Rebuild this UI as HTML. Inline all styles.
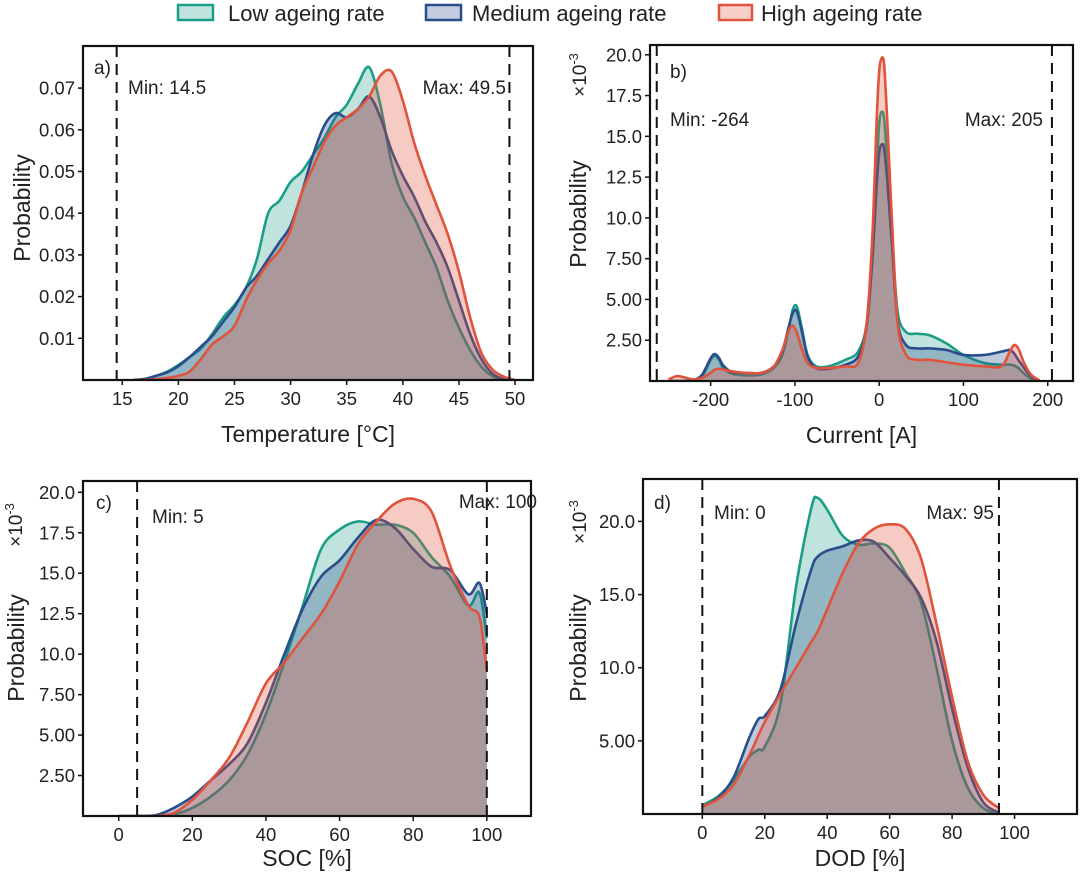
<!DOCTYPE html>
<html><head><meta charset="utf-8">
<style>
html,body{margin:0;padding:0;background:#fff;}
svg{display:block;font-family:"Liberation Sans",Arial,sans-serif;}
</style></head>
<body>
<svg id="fig" width="1080" height="882" viewBox="0 0 1080 882" xmlns="http://www.w3.org/2000/svg">
  <g font-size="22" fill="#222">
    <g>
      <rect x="178" y="5" width="35" height="15" fill="rgba(27,158,134,0.28)" stroke="#1b9e86" stroke-width="2.5"/>
      <text x="228" y="21">Low ageing rate</text>
    </g>
    <g>
      <rect x="426" y="5" width="35" height="15" fill="rgba(42,77,140,0.28)" stroke="#2a4d8c" stroke-width="2.5"/>
      <text x="472" y="21">Medium ageing rate</text>
    </g>
    <g>
      <rect x="719" y="5" width="33" height="15" fill="rgba(224,83,60,0.28)" stroke="#e0533c" stroke-width="2.5"/>
      <text x="761" y="21">High ageing rate</text>
    </g>
  </g>
</svg>
<script>
// Panel a: Temperature
const tempX = [16,17,18,19,20,21,22,23,24,25,26,27,28,29,30,31,32,33,34,35,36,37,38,39,40,41,42,43,44,45,46,47,48,49,50];
const tempLow = [0,0.0003,0.001,0.002,0.0036,0.0055,0.0075,0.011,0.015,0.018,0.022,0.029,0.040,0.043,0.0475,0.050,0.054,0.058,0.063,0.066,0.071,0.075,0.066,0.052,0.044,0.039,0.033,0.027,0.019,0.0125,0.0072,0.0032,0.0009,0.0001,0];
const tempMed = [0,0.0002,0.001,0.0018,0.0033,0.0055,0.008,0.0105,0.014,0.0175,0.022,0.025,0.029,0.033,0.037,0.045,0.054,0.061,0.064,0.063,0.065,0.068,0.063,0.055,0.049,0.044,0.038,0.033,0.027,0.019,0.011,0.005,0.0015,0.0002,0];
const tempHigh = [0,0,0.0002,0.0005,0.001,0.002,0.005,0.0085,0.0105,0.013,0.019,0.024,0.028,0.031,0.036,0.045,0.051,0.057,0.061,0.063,0.065,0.068,0.073,0.074,0.067,0.057,0.049,0.042,0.035,0.026,0.015,0.0065,0.0025,0.0008,0];
const tempXTicks = [15,20,25,30,35,40,45,50];
const tempYTicks = [0.01,0.02,0.03,0.04,0.05,0.06,0.07];
const tempYLabels = ["0.01","0.02","0.03","0.04","0.05","0.06","0.07"];

// Panel b: Current (x10^-3)
const curX = [-250,-240,-230,-220,-210,-200,-195,-190,-185,-175,-160,-140,-125,-115,-108,-103,-98,-92,-85,-75,-60,-40,-25,-15,-8,-3,0,3,6,10,15,22,32,45,60,80,100,125,145,155,160,165,172,180,190];
const curLow = [0,0,0,0.05,0.3,1.3,1.55,1.3,0.8,0.45,0.35,0.4,0.8,1.6,3.0,4.3,4.6,3.3,1.6,0.9,0.9,1.3,1.8,3.5,8,13,15.8,16.5,16,13,9,4.2,3.0,2.9,2.8,2.3,1.6,1.1,1.0,1.0,0.95,0.8,0.45,0.15,0];
const curMed = [0,0,0,0.05,0.4,1.4,1.65,1.4,0.95,0.55,0.5,0.5,0.9,1.8,3.2,4.1,4.3,3.1,1.5,0.8,0.75,1.0,1.5,3.3,7.5,12,14,14.5,14.2,12,8.5,3.6,2.2,2.0,2.0,1.9,1.6,1.6,1.8,1.9,1.7,1.3,0.8,0.3,0];
const curHigh = [0.1,0.3,0.2,0.1,0.2,0.5,0.7,0.75,0.7,0.6,0.5,0.5,0.9,1.9,3.0,3.4,3.0,2.0,1.1,0.8,0.8,0.9,1.1,3.5,9,16,19,19.8,19.3,15.5,10,3.5,1.6,1.3,1.3,1.15,1.0,0.9,0.9,1.8,2.2,2.0,1.1,0.4,0.05];
const curXTicks = [-200,-100,0,100,200];
const curYTicks = [2.5,5,7.5,10,12.5,15,17.5,20];
const curYLabels = ["2.50","5.00","7.50","10.0","12.5","15.0","17.5","20.0"];

// Panel c: SOC (x10^-3)
const socX = [0,5,10,15,20,25,30,35,40,45,50,55,60,65,70,75,80,85,90,95,98,100];
const socLow = [0,0,0,0.1,0.5,1.2,2.2,3.8,6.3,9.5,13,16.5,17.7,18.2,18.0,18.0,17.5,16,14.8,13.0,13.8,11];
const socMed = [0,0,0.05,0.5,1.2,2.2,3.2,4.5,7,10,12.8,14.8,15.8,17.2,18.3,17.8,16.5,15.4,15.2,13.7,14.4,12.5];
const socHigh = [0,0,0,0.2,1.0,2.2,3.6,5.8,8.2,9.5,11,12.5,14.5,16.8,18.2,19.3,19.6,18.8,15.5,13.0,12.3,9];
const socXTicks = [0,20,40,60,80,100];
const socYTicks = [2.5,5,7.5,10,12.5,15,17.5,20];
const socYLabels = ["2.50","5.00","7.50","10.0","12.5","15.0","17.5","20.0"];

// Panel d: DOD (x10^-3)
const dodX = [0,5,10,15,18,20,25,30,35,37,40,45,50,55,60,65,70,75,80,85,90,95];
const dodLow = [0.6,1.2,2.3,3.9,4.4,4.6,7.5,15.5,21,21.6,20.8,19,18.4,18.5,18.2,16.5,14.5,10,5,1.8,0.4,0];
const dodMed = [0.5,1.1,2.5,5.2,6.5,6.7,8.5,13,16.8,17.6,18.0,18.3,18.7,18.6,17.5,16.3,14.8,11.8,7.2,3.2,0.8,0.1];
const dodHigh = [0.5,1.0,2.0,4.0,5.4,6.3,8.2,10.0,11.8,12.5,14,16.5,18.5,19.5,19.8,19.5,17.5,13,8,3.6,1.3,0.4];
const dodXTicks = [0,20,40,60,80,100];
const dodYTicks = [5,10,15,20];
const dodYLabels = ["5.00","10.0","15.0","20.0"];

const NS = "http://www.w3.org/2000/svg";
const svg = document.getElementById('fig');
function mk(tag, attrs, parent){
  const e = document.createElementNS(NS, tag);
  for (const k in attrs) e.setAttribute(k, attrs[k]);
  (parent||svg).appendChild(e);
  return e;
}
function smoothPath(pts){
  let d = "M" + pts[0][0].toFixed(2) + "," + pts[0][1].toFixed(2);
  for (let i=0;i<pts.length-1;i++){
    const p0 = pts[i-1]||pts[i], p1 = pts[i], p2 = pts[i+1], p3 = pts[i+2]||p2;
    const t = 0.16;
    const c1y = p1[1]+(p2[1]-p0[1])*t, c2y = p2[1]-(p3[1]-p1[1])*t;
    const c1x = p1[0]+(p2[0]-p0[0])*t, c2x = p2[0]-(p3[0]-p1[0])*t;
    d += " C"+c1x.toFixed(2)+","+c1y.toFixed(2)+" "+c2x.toFixed(2)+","+c2y.toFixed(2)+" "+p2[0].toFixed(2)+","+p2[1].toFixed(2);
  }
  return d;
}
const COLORS = [
  {name:'low', line:'#1b9e86', fill:'rgba(27,158,134,0.28)'},
  {name:'medium', line:'#2a4d8c', fill:'rgba(42,77,140,0.30)'},
  {name:'high', line:'#e0533c', fill:'rgba(224,83,60,0.30)'}
];

function panel(cfg){
  const g = mk('g', {});
  
  
  const sx = v => cfg.x0 + (v - cfg.xmin) / (cfg.xmax - cfg.xmin) * (cfg.x1 - cfg.x0);
  const sy = v => cfg.y1 - (v - cfg.ymin) / (cfg.ymax - cfg.ymin) * (cfg.y1 - cfg.y0);
  const clip = mk('clipPath', {id:'clip-'+cfg.id}, g);
  mk('rect', {x:cfg.x0, y:cfg.y0, width:cfg.x1-cfg.x0, height:cfg.y1-cfg.y0}, clip);
  const plot = mk('g', {'clip-path':'url(#clip-'+cfg.id+')'}, g);
  cfg.series.forEach((ys, si) => {
    const pts = cfg.xs.map((x,i) => [sx(x), sy(ys[i])]);
    const line = smoothPath(pts);
    const area = line + " L" + pts[pts.length-1][0].toFixed(2) + "," + sy(cfg.ymin) + " L" + pts[0][0].toFixed(2) + "," + sy(cfg.ymin) + " Z";
    const a = mk('path', {d: area, fill: COLORS[si].fill, stroke:'none'}, plot);
    
    
    const l = mk('path', {d: line, fill:'none', stroke: COLORS[si].line, 'stroke-width':2.6, 'stroke-linejoin':'round'}, plot);
    
    
  });
  [cfg.minV, cfg.maxV].forEach((v, k) => {
    const dl = mk('line', {x1:sx(v), x2:sx(v), y1:cfg.y0, y2:cfg.y1, stroke:'#111', 'stroke-width':2, 'stroke-dasharray':'11,7'}, g);
    
    
  });
  const box = mk('rect', {x:cfg.x0, y:cfg.y0, width:cfg.x1-cfg.x0, height:cfg.y1-cfg.y0, fill:'none', stroke:'#111', 'stroke-width':2.2}, g);
  
  
  cfg.xTicks.forEach(v => {
    mk('line', {x1:sx(v), x2:sx(v), y1:cfg.y1, y2:cfg.y1+5, stroke:'#111', 'stroke-width':1.5}, g);
    const t = mk('text', {x:sx(v), y:cfg.y1+25, 'text-anchor':'middle', 'font-size':18.5, fill:'#222'}, g);
    t.textContent = String(v);
    
    
  });
  cfg.yTicks.forEach((v, i) => {
    mk('line', {x1:cfg.x0-5, x2:cfg.x0, y1:sy(v), y2:sy(v), stroke:'#111', 'stroke-width':1.5}, g);
    const t = mk('text', {x:cfg.x0-8, y:sy(v)+6.5, 'text-anchor':'end', 'font-size':18.5, fill:'#222'}, g);
    t.textContent = cfg.yLabels[i];
    
    
  });
  const xt = mk('text', {x:(cfg.x0+cfg.x1)/2, y:cfg.y1+cfg.xtOff, 'text-anchor':'middle', 'font-size':23, fill:'#222'}, g);
  xt.textContent = cfg.xTitle;
  
  
  const yt = mk('text', {x:0, y:0, 'text-anchor':'middle', 'font-size':23, fill:'#222', transform:'translate('+cfg.ytX+','+cfg.ytY+') rotate(-90)'}, g);
  yt.textContent = 'Probability';
  
  
  if (cfg.exp){
    const ex = mk('text', {x:0, y:0, 'text-anchor':'middle', 'font-size':19, fill:'#222', transform:'translate('+cfg.exp[0]+','+cfg.exp[1]+') rotate(-90)'}, g);
    ex.textContent = '×10';
    const sup = mk('tspan', {dy:-8, 'font-size':13}, ex);
    sup.textContent = '-3';
    
    
  }
  const lab = mk('text', {x:cfg.lab[0], y:cfg.lab[1], 'font-size':19, fill:'#222'}, g);
  lab.textContent = cfg.id + ')';
  
  
  const mn = mk('text', {x:cfg.minT[0], y:cfg.minT[1], 'font-size':19, fill:'#222'}, g);
  mn.textContent = 'Min: ' + cfg.minL;
  
  
  const mxt = mk('text', {x:cfg.maxT[0], y:cfg.maxT[1], 'font-size':19, fill:'#222', 'text-anchor':'end'}, g);
  mxt.textContent = 'Max: ' + cfg.maxL;
  
  
}

panel({id:'a', x0:83, x1:533, y0:46, y1:380, xmin:11.5, xmax:51.6, ymin:0, ymax:0.0801,
  xs:tempX, series:[tempLow,tempMed,tempHigh], xTicks:tempXTicks, yTicks:tempYTicks, yLabels:tempYLabels,
  minV:14.5, maxV:49.5, minL:'14.5', maxL:'49.5', xTitle:'Temperature [°C]', xtOff:62, ytX:30, ytY:208, exp:null,
  lab:[94,74], minT:[128,94], maxT:[506,94]});
panel({id:'b', x0:650, x1:1073, y0:45, y1:381, xmin:-272, xmax:230, ymin:0, ymax:20.6,
  xs:curX, series:[curLow,curMed,curHigh], xTicks:curXTicks, yTicks:curYTicks, yLabels:curYLabels,
  minV:-264, maxV:205, minL:'-264', maxL:'205', xTitle:'Current [A]', xtOff:62, ytX:586, ytY:214, exp:[586,75],
  lab:[670,78], minT:[670,126], maxT:[1043,126]});
panel({id:'c', x0:83, x1:531, y0:481, y1:816, xmin:-9.7, xmax:112, ymin:0, ymax:20.7,
  xs:socX, series:[socLow,socMed,socHigh], xTicks:socXTicks, yTicks:socYTicks, yLabels:socYLabels,
  minV:5, maxV:100, minL:'5', maxL:'100', xTitle:'SOC [%]', xtOff:50, ytX:24, ytY:648, exp:[22,525],
  lab:[96,509], minT:[152,523], maxT:[537,508]});
panel({id:'d', x0:643, x1:1077, y0:479, y1:814, xmin:-19, xmax:120, ymin:0, ymax:22.9,
  xs:dodX, series:[dodLow,dodMed,dodHigh], xTicks:dodXTicks, yTicks:dodYTicks, yLabels:dodYLabels,
  minV:0, maxV:95, minL:'0', maxL:'95', xTitle:'DOD [%]', xtOff:52, ytX:586, ytY:648, exp:[586,522],
  lab:[654,509], minT:[714,519], maxT:[994,519]});
</script>
</body></html>
